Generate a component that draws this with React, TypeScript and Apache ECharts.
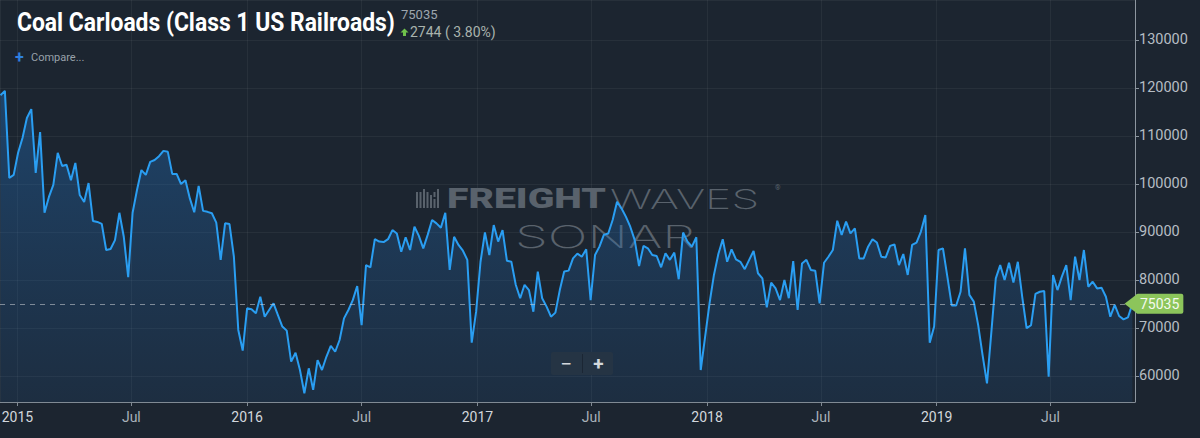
import React, { useEffect, useRef } from "react";
import * as echarts from "echarts";

// ---- data (weekly coal carloads, first week = 2014-12-05) ----
const firstWeek = { year: 2014, month: 11, day: 5 };

const weeksA = [
  118500, 119400, 101250, 101900, 106500, 109600, 113750, 115600, 102300, 110800,
  94000, 97300, 99800, 106500, 103750, 104000, 100800, 104400, 97700, 96250,
  100200, 92300, 92100, 91700, 86250, 86450, 88300, 94000, 89000, 80600,
  94000, 98750, 102900, 101900, 104600, 105000, 105800, 106900, 106700, 102100,
  102100, 100000, 100800, 97000, 94100, 99600, 94400, 94200, 93900, 91950,
  84200, 91800,
];
const weeksB = [
  91650, 84850, 69600, 65300, 74100, 73900, 73050, 76500, 72350, 73750,
  75150, 72700, 70300, 69450, 63000, 64850, 61250, 56400, 61600, 57100,
  63300, 61250, 64000, 66300, 65050, 67500, 72000, 73750, 75800, 78750,
  70600, 83100, 82650, 88500, 88000, 87900, 88500, 90400, 89700, 85900,
  88900, 86250, 91100, 89200, 86600, 89400, 92500, 91800, 90900, 94000,
  82100, 89000,
];
const weeksC = [
  87300, 86100, 84200, 66950, 73400, 83800, 89900, 85200, 91450, 88000,
  90400, 84000, 83800, 79000, 76200, 79000, 77900, 73400, 81750, 76200,
  74450, 72350, 73200, 77900, 81750, 81950, 84500, 85500, 84850, 86400,
  75800, 85200, 86950, 89400, 89700, 92500, 96300, 94950, 93200, 91100,
  88350, 82900, 87100, 86600, 85200, 85000, 82650, 85550, 84200, 85700,
  80150, 89900,
];
const weeksD = [
  88000, 86950, 88900, 61250, 68200, 75150, 81050, 85400, 88500, 83800,
  86400, 84300, 83800, 82250, 84200, 86050, 81400, 80350, 74300, 79450,
  78250, 75800, 80000, 76200, 83950, 73750, 83450, 84200, 82100, 81950,
  75150, 83600, 84850, 86250, 92350, 89400, 92150, 89700, 90750, 84500,
  84500, 86950, 88500, 87800, 84850, 84700, 87100, 87400, 83100, 85400,
  81050, 87300,
];
const weeksE = [
  87800, 90100, 93550, 66950, 70300, 86250, 86600, 80700, 74700, 74700,
  77550, 86600, 76900, 75500, 70600, 64350, 58450, 69250, 80350, 83100,
  80000, 83600, 79450, 83800, 76500, 69950, 70600, 77100, 77550, 77700,
  59850, 81050, 77900, 80700, 83100, 75800, 84850, 80000, 86250, 78600,
  79650, 78250, 78400, 76500, 72350, 74800, 72500, 71800, 72200, 75035,
];

const titleText = "Coal Carloads (Class 1 US Railroads)";
const lastValue = 75035;
const changeText = "2744 ( 3.80%)";
const monthNames = ["Jan", "Feb", "Mar", "Apr", "May", "Jun", "Jul", "Aug", "Sep", "Oct", "Nov", "Dec"];
const xStart = { year: 2014, month: 11, day: 4, hour: 6 };
const xEnd = { year: 2019, month: 10, day: 12, hour: 6 };
const yMin = 54583;
const yMax = 138333;

const DAY = 86400000;

export default function App() {
  const ref = useRef<HTMLDivElement>(null);

  useEffect(() => {
    if (!ref.current) return;
    const chart = echarts.init(ref.current, null, { renderer: "svg" });
    const values = [...weeksA, ...weeksB, ...weeksC, ...weeksD, ...weeksE];
    const data = values.map((v, i) => [
      new Date(firstWeek.year, firstWeek.month, firstWeek.day + 7 * i).getTime(),
      v,
    ]);
    const xMin = new Date(xStart.year, xStart.month, xStart.day, xStart.hour).getTime();
    const xMax = new Date(xEnd.year, xEnd.month, xEnd.day, xEnd.hour).getTime();

    const wm = "#59626c";
    const logoBars = [
      [0, 3, 2, 16],
      [3.5, 3, 2, 16],
      [7, 0, 2, 19],
      [10.5, 3, 2, 16],
      [14, 6, 2, 13],
      [17.5, 3, 2, 5],
      [17.5, 10, 2, 9],
      [21, 0, 2, 19],
    ];

    chart.setOption({
      animation: false,
      backgroundColor: "#1c2530",
      textStyle: { fontFamily: "Roboto" },
      grid: { left: 0, right: 65, top: 0, bottom: 36, outerBoundsMode: "none", containLabel: false },
      xAxis: {
        type: "time",
        min: xMin,
        max: xMax,
        splitNumber: 10,
        minInterval: 182 * DAY,
        maxInterval: 182 * DAY,
        axisLine: { show: true, lineStyle: { color: "#808a94", width: 1 } },
        axisTick: { show: true, length: 4, lineStyle: { color: "#808a94" } },
        splitLine: { show: true, lineStyle: { color: "rgba(255,255,255,0.05)", width: 1 } },
        axisLabel: {
          showMinLabel: false,
          showMaxLabel: false,
          margin: 8,
          fontSize: 14,
          fontFamily: "Roboto",
          formatter: (val: number) => {
            const d = new Date(val);
            if (d.getMonth() === 0) return "{y|" + d.getFullYear() + "}";
            return "{m|" + monthNames[d.getMonth()] + "}";
          },
          rich: {
            y: { color: "#d2d7dc", fontSize: 14, fontFamily: "Roboto" },
            m: { color: "#a9b1b9", fontSize: 14, fontFamily: "Roboto" },
          },
        },
      },
      yAxis: {
        type: "value",
        position: "right",
        min: yMin,
        max: yMax,
        splitNumber: 8,
        axisLine: { show: true, lineStyle: { color: "#8d969f", width: 1 } },
        axisTick: { show: true, length: 4, lineStyle: { color: "#8d969f" } },
        splitLine: { show: true, lineStyle: { color: "rgba(255,255,255,0.05)", width: 1 } },
        axisLabel: {
          showMinLabel: false,
          showMaxLabel: false,
          color: "#b6bdc4",
          fontSize: 14.5,
          fontFamily: "Roboto",
          margin: 4,
          formatter: (v: number) => String(Math.round(v)),
        },
      },
      graphic: [
        // watermark
        {
          type: "group",
          id: "logo",
          x: 416,
          y: 189,
          z: 1,
          children: logoBars.map((b, i) => ({
            type: "rect",
            id: "lb" + i,
            shape: { x: b[0], y: b[1], width: b[2], height: b[3] },
            style: { fill: wm },
          })),
        },
        {
          type: "text",
          id: "wmF",
          x: 447,
          y: 199,
          z: 1,
          scaleX: 1.45,
          style: { text: "FREIGHT", fill: wm, fontSize: 27, fontWeight: 900, fontFamily: "Roboto", verticalAlign: "middle" },
        },
        {
          type: "text",
          id: "wmW",
          x: 610,
          y: 199,
          z: 1,
          scaleX: 1.65,
          style: { text: "WAVES", fill: wm, fontSize: 27, fontWeight: 200, fontFamily: "Inter", verticalAlign: "middle" },
        },
        {
          type: "text",
          id: "wmR",
          x: 775,
          y: 188,
          z: 1,
          style: { text: "®", fill: wm, fontSize: 7, fontFamily: "Roboto", verticalAlign: "middle" },
        },
        {
          type: "text",
          id: "wmS",
          x: 515,
          y: 237,
          z: 1,
          scaleX: 1.7,
          style: { text: "SONAR", fill: wm, fontSize: 31, fontWeight: 200, fontFamily: "Inter", verticalAlign: "middle" },
        },
        // header
        {
          type: "text",
          id: "title",
          x: 17,
          y: 23,
          z: 10,
          scaleX: 0.915,
          style: { text: titleText, fill: "#ffffff", fontSize: 25, fontWeight: "bold", fontFamily: "Roboto", verticalAlign: "middle" },
        },
        {
          type: "text",
          id: "lastVal",
          x: 401,
          y: 14,
          z: 10,
          style: { text: String(lastValue), fill: "#9ea6ae", fontSize: 13, fontFamily: "Roboto", verticalAlign: "middle" },
        },
        {
          type: "polygon",
          id: "upArrow",
          z: 10,
          shape: {
            points: [
              [404.5, 28.5],
              [408.5, 32.5],
              [406, 32.5],
              [406, 36],
              [403, 36],
              [403, 32.5],
              [400.5, 32.5],
            ],
          },
          style: { fill: "#6fc24b" },
        },
        {
          type: "text",
          id: "chg",
          x: 410,
          y: 32,
          z: 10,
          style: { text: changeText, fill: "#a9b3ad", fontSize: 14, fontFamily: "Roboto", verticalAlign: "middle" },
        },
        {
          type: "text",
          id: "plus",
          x: 15,
          y: 57,
          z: 10,
          style: { text: "+", fill: "#2f80e0", fontSize: 16, fontWeight: "bold", fontFamily: "Roboto", verticalAlign: "middle" },
        },
        {
          type: "text",
          id: "compare",
          x: 31,
          y: 57,
          z: 10,
          style: { text: "Compare...", fill: "#98a1aa", fontSize: 11, fontFamily: "Roboto", verticalAlign: "middle" },
        },
        // zoom buttons
        {
          type: "rect",
          id: "zoomBox",
          z: 10,
          shape: { x: 551, y: 352, width: 62, height: 23, r: 2 },
          style: { fill: "#253444" },
        },
        {
          type: "line",
          id: "zoomSep",
          z: 11,
          shape: { x1: 582.5, y1: 354, x2: 582.5, y2: 373 },
          style: { stroke: "#1b2634", lineWidth: 1 },
        },
        {
          type: "text",
          id: "zoomMinus",
          x: 566,
          y: 363.5,
          z: 11,
          style: { text: "−", fill: "#d3d8dd", fontSize: 21, fontFamily: "Roboto", align: "center", verticalAlign: "middle" },
        },
        {
          type: "text",
          id: "zoomPlus",
          x: 598.5,
          y: 363.5,
          z: 11,
          style: { text: "+", fill: "#d3d8dd", fontSize: 19, fontWeight: "bold", fontFamily: "Roboto", align: "center", verticalAlign: "middle" },
        },
      ],
      series: [
        {
          type: "line",
          data,
          symbol: "none",
          showSymbol: false,
          clip: false,
          z: 3,
          lineStyle: { color: "#2a9ef2", width: 2 },
          areaStyle: {
            color: new echarts.graphic.LinearGradient(0, 0, 0, 1, [
              { offset: 0, color: "rgba(34,118,200,0.55)" },
              { offset: 1, color: "rgba(34,100,170,0.2)" },
            ]),
          },
          markLine: {
            silent: true,
            symbol: ["none", "none"],
            lineStyle: { color: "rgba(205,210,215,0.55)", type: [5, 5], width: 1 },
            label: {
              show: true,
              position: "end",
              distance: 1,
              formatter: String(lastValue),
              backgroundColor: "#8cc55b",
              color: "#f4faee",
              fontSize: 14,
              fontFamily: "Roboto",
              padding: [3, 4, 3, 4],
              borderRadius: 2,
            },
            data: [{ yAxis: lastValue }],
          },
          markPoint: {
            silent: true,
            data: [
              {
                coord: [xMax, lastValue],
                symbol: "path://M0,10 L12,0 L12,20 Z",
                symbolSize: [13, 20],
                symbolOffset: [-4, 0],
                itemStyle: { color: "#8cc55b" },
                label: { show: false },
              },
            ],
          },
        },
      ],
    });

    return () => chart.dispose();
  }, []);

  return (
    <div
      ref={ref}
      style={{ position: "fixed", left: 0, top: 0, width: 1200, height: 438 }}
    />
  );
}
